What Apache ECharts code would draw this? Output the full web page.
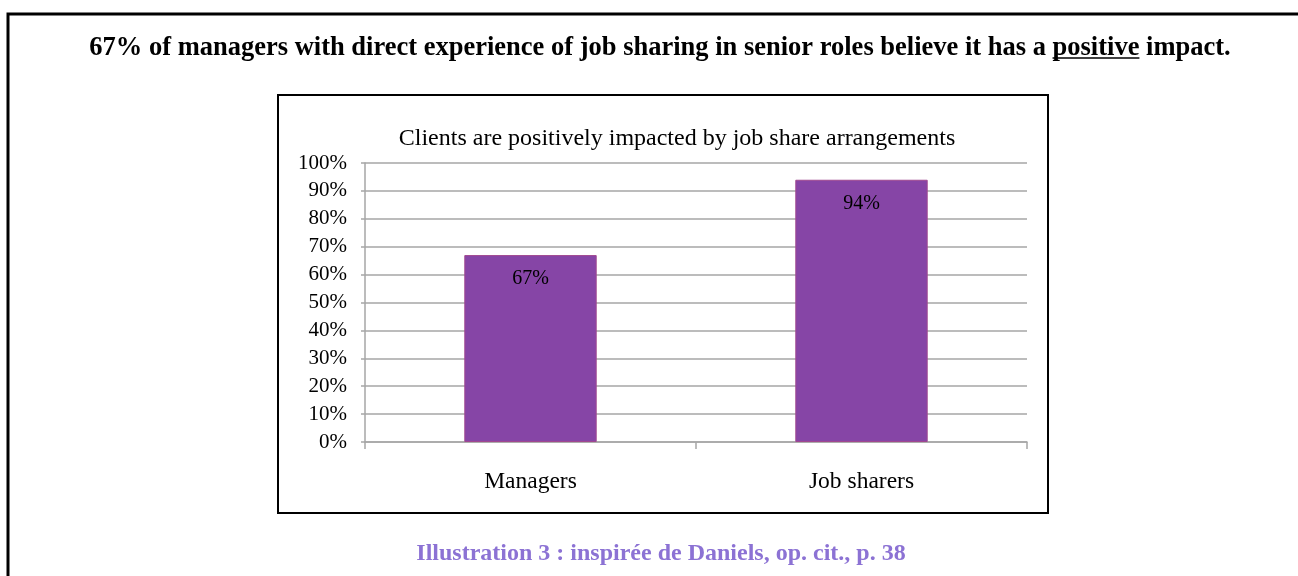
<!DOCTYPE html>
<html>
<head>
<meta charset="utf-8">
<script src="https://cdn.jsdelivr.net/npm/echarts@6/dist/echarts.min.js"></script>
<style>
html,body{margin:0;padding:0;background:#fff;}
#c{width:1298px;height:576px;}
</style>
</head>
<body>
<div id="c"></div>
<script>
var categories = ['Managers', 'Job sharers'];
var values = [67, 94];
var titlePre = '67% of managers with direct experience of job sharing in senior roles believe it has a ';
var titleUnder = 'positive';
var titlePost = ' impact.';
var chartTitle = 'Clients are positively impacted by job share arrangements';
var caption = 'Illustration 3 : inspirée de Daniels, op. cit., p. 38';

var serif = '"Liberation Serif", "Times New Roman", serif';
var titleFont = 'bold 26.5px ' + serif;

// measure for underline
var cv = document.createElement('canvas').getContext('2d');
cv.font = titleFont;
var wPre = cv.measureText(titlePre).width;
var wUnder = cv.measureText(titleUnder).width;
var wAll = cv.measureText(titlePre + titleUnder + titlePost).width;
var titleCx = 660;
var titleX0 = titleCx - wAll / 2;

var chart = echarts.init(document.getElementById('c'));
chart.setOption({
  backgroundColor: '#fff',
  animation: false,
  grid: {left: 365, right: 271, top: 163, bottom: 134},
  xAxis: {
    type: 'category',
    data: categories,
    axisLine: {show: true, lineStyle: {color: '#a6a6a6', width: 1.5}},
    axisTick: {show: true, length: 7, lineStyle: {color: '#a6a6a6', width: 1.5}},
    axisLabel: {fontFamily: serif, fontSize: 23.5, color: '#000', margin: 28}
  },
  yAxis: {
    type: 'value',
    min: 0, max: 100, interval: 10,
    axisLine: {show: true, lineStyle: {color: '#a6a6a6', width: 1.5}},
    axisTick: {show: true, length: 4, lineStyle: {color: '#a6a6a6', width: 1.5}},
    splitLine: {lineStyle: {color: '#a6a6a6', width: 1.5}},
    axisLabel: {fontFamily: serif, fontSize: 21, color: '#000', margin: 18, formatter: '{value}%'}
  },
  series: [{
    type: 'bar',
    data: values,
    barWidth: '40%',
    itemStyle: {color: '#8645a6', borderColor: '#a04890', borderWidth: 1},
    label: {
      show: true, position: 'insideTop', distance: 14,
      fontFamily: serif, fontSize: 20, color: '#000',
      formatter: '{c}%'
    }
  }],
  graphic: [
    {type: 'rect', shape: {x: 8, y: 14, width: 1400, height: 700}, style: {fill: null, stroke: '#000', lineWidth: 3}, z: -10},
    {type: 'rect', shape: {x: 278, y: 95, width: 770, height: 418}, style: {fill: null, stroke: '#000', lineWidth: 2}, z: -10},
    {type: 'text', x: titleCx, y: 48, style: {text: titlePre + titleUnder + titlePost, font: titleFont, fill: '#000', align: 'center', verticalAlign: 'middle'}},
    {type: 'line', shape: {x1: titleX0 + wPre, y1: 58, x2: titleX0 + wPre + wUnder, y2: 58}, style: {stroke: '#000', lineWidth: 1.5}},
    {type: 'text', x: 677, y: 139, style: {text: chartTitle, font: '24px ' + serif, fill: '#000', align: 'center', verticalAlign: 'middle'}},
    {type: 'text', x: 661, y: 554, style: {text: caption, font: 'bold 24px ' + serif, fill: '#8c72d4', align: 'center', verticalAlign: 'middle'}}
  ]
});
</script>
</body>
</html>
